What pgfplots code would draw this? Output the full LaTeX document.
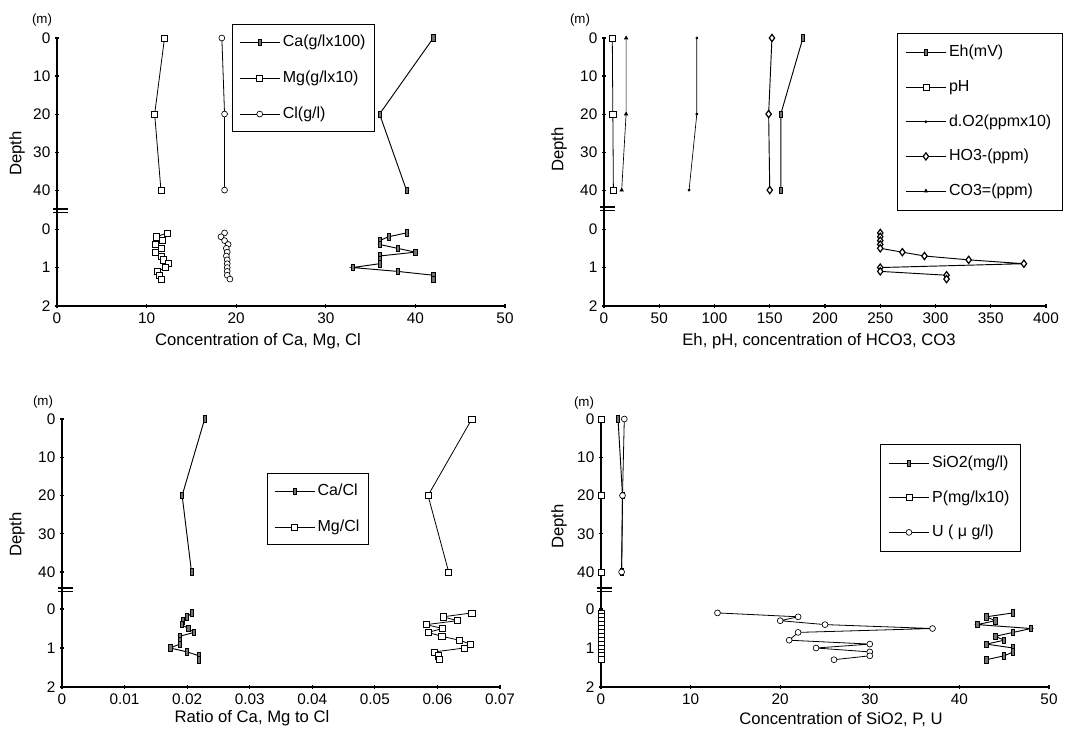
\documentclass[border=0pt]{standalone}
\usepackage{fontspec}
\setmainfont{Liberation Sans}
\usepackage{pgfplots}
\pgfplotsset{compat=1.18}

\pgfplotsset{
  base/.style={scale only axis, y dir=reverse, clip=false,
    tick style={black, line width=0.8pt}, major tick length=3pt, tick align=inside,
    tick label style={font=\fontsize{11.5}{13}\selectfont},
    /pgf/number format/assume math mode=true, scaled x ticks=false,
    legend cell align=left,
    legend image code/.code={\draw[mark repeat=2,mark phase=2,##1] plot coordinates {(0pt,0pt) (15pt,0pt) (30pt,0pt)};},
  },
  noarrow/.style={axis line style={-, line width=1.3pt},
    every outer x axis line/.append style={-}, every outer y axis line/.append style={-},
    every inner x axis line/.append style={-}, every inner y axis line/.append style={-}},
  upper/.style={base, axis x line=none, axis y line=left, ymin=0, ytick={0,10,20,30,40}, xtick=\empty, noarrow},
  lower/.style={base, axis x line=bottom, axis y line=left, ymax=2, ytick={0,1,2}, noarrow},
  leg/.style={legend style={at={(axis description cs:#1)}, anchor=north west, draw=black, line width=0.6pt,
    font=\fontsize{12}{14}\selectfont, row sep=10.5pt, inner sep=5pt,
    nodes={inner sep=2pt, text height=9.5pt, text depth=3pt}}},
  camark/.style={black, line width=0.7pt, mark=square*, mark size=2.4pt,
    mark options={xscale=0.5, fill=black!55, solid, line width=0.5pt}},
  sqmark/.style={black, line width=0.6pt, mark=square*, mark size=2.3pt,
    mark options={fill=white, line width=0.5pt}},
  cimark/.style={black, line width=0.6pt, mark=*, mark size=2.2pt,
    mark options={fill=white, line width=0.5pt}},
  dimark/.style={black, line width=0.7pt, mark=diamond*, mark size=2.7pt,
    mark options={fill=white, line width=0.9pt}},
  dotmark/.style={black, line width=0.5pt, mark=*, mark size=0.8pt},
  trimark/.style={black, line width=0.5pt, mark=triangle*, mark size=1.4pt},
}

\begin{document}
\begin{tikzpicture}
\tikzset{lab/.style={font=\fontsize{12.5}{14}\selectfont}, unit/.style={font=\fontsize{10}{12}\selectfont}}

% ---------- panel 1 : Ca, Mg, Cl ----------
\begin{axis}[upper, at={(42.75pt,-28.5pt)}, anchor=north west, width=336pt, height=129.75pt,
  xmin=0, xmax=50, ymax=45.5, leg={0.391,1.081}]
\addplot[camark] coordinates {(42,0) (36,20) (39,40)};
\addlegendentry{Ca(g/lx100)}
\addplot[sqmark] coordinates {(12.0,0) (10.9,20) (11.6,40)};
\addlegendentry{Mg(g/lx10)}
\addplot[cimark] coordinates {(18.4,0) (18.7,20) (18.7,40)};
\addlegendentry{Cl(g/l)}
\end{axis}
\begin{axis}[lower, at={(42.75pt,-229.5pt)}, anchor=south west, width=336pt, height=71.25pt,
  xmin=0, xmax=50, ymin=-0.47, xtick={0,10,20,30,40,50}]
\addplot[camark] coordinates {(39,0.1) (37,0.2) (36,0.3) (36,0.4) (38,0.5) (40,0.6) (36,0.7)
  (36,0.8) (36,0.9) (33,1.0) (38,1.1) (42,1.2) (42,1.3)};
\addplot[sqmark] coordinates {(12.3,0.1) (11.1,0.2) (11.8,0.3) (11.0,0.4) (11.6,0.5) (11.0,0.6)
  (11.6,0.7) (11.9,0.8) (12.4,0.9) (12.1,1.0) (11.2,1.1) (11.4,1.2) (11.6,1.3)};
\addplot[cimark] coordinates {(18.7,0.1) (18.3,0.2) (18.7,0.3) (19.1,0.4) (18.9,0.5) (19.0,0.6)
  (18.9,0.7) (19.0,0.8) (19.0,0.9) (19.0,1.0) (19.0,1.1) (19.0,1.2) (19.3,1.3)};
\end{axis}

% ---------- panel 2 : Eh, pH, O2, HCO3, CO3 ----------
\begin{axis}[upper, at={(453pt,-28.5pt)}, anchor=north west, width=331.5pt, height=129.75pt,
  xmin=0, xmax=400, ymax=45.5, leg={0.663,1.029}, legend style={row sep=9.5pt, inner sep=6pt}]
\addplot[camark] coordinates {(180,0) (160,20) (160,40)};
\addlegendentry{Eh(mV)}
\addplot[sqmark] coordinates {(7.5,0) (8,20) (8.5,40)};
\addlegendentry{pH}
\addplot[dotmark] coordinates {(84,0) (84,20) (77,40)};
\addlegendentry{d.O2(ppmx10)}
\addplot[dimark] coordinates {(152,0) (149,20) (150,40)};
\addlegendentry{HO3-(ppm)}
\addplot[trimark] coordinates {(20,0) (20,20) (16,40)};
\addlegendentry{CO3=(ppm)}
\end{axis}
\begin{axis}[lower, at={(453pt,-229.5pt)}, anchor=south west, width=331.5pt, height=71.25pt,
  xmin=0, xmax=400, ymin=-0.47, xtick={0,50,100,150,200,250,300,350,400}]
\addplot[dimark] coordinates {(250,0.1) (250,0.2) (250,0.3) (250,0.4) (250,0.5) (270,0.6) (290,0.7)
  (330,0.8) (380,0.9) (250,1.0) (250,1.1) (310,1.2) (310,1.3)};
\end{axis}

% ---------- panel 3 : Ca/Cl, Mg/Cl ----------
\begin{axis}[upper, at={(46.5pt,-314.25pt)}, anchor=north west, width=328.5pt, height=128.25pt,
  xmin=0, xmax=0.07, ymax=44.7, leg={0.468,0.684}]
\addplot[camark] coordinates {(0.0228,0) (0.0192,20) (0.0207,40)};
\addlegendentry{Ca/Cl}
\addplot[sqmark] coordinates {(0.0655,0) (0.0585,20) (0.0618,40)};
\addlegendentry{Mg/Cl}
\end{axis}
\begin{axis}[lower, at={(46.5pt,-515.25pt)}, anchor=south west, width=328.5pt, height=72.75pt,
  xmin=0, xmax=0.07, ymin=-0.487, xtick={0,0.01,0.02,0.03,0.04,0.05,0.06,0.07},
  xticklabels={0,0.01,0.02,0.03,0.04,0.05,0.06,0.07}]
\addplot[camark] coordinates {(0.0207,0.1) (0.0200,0.2) (0.0193,0.3) (0.0191,0.4) (0.0202,0.5)
  (0.0211,0.6) (0.0188,0.7) (0.0188,0.8) (0.0188,0.9) (0.0173,1.0) (0.0200,1.1) (0.0219,1.2) (0.0219,1.3)};
\addplot[sqmark] coordinates {(0.0655,0.1) (0.0609,0.2) (0.0632,0.3) (0.0582,0.4) (0.0608,0.5)
  (0.0585,0.6) (0.0607,0.7) (0.0635,0.8) (0.0653,0.9) (0.0643,1.0) (0.0595,1.1) (0.0602,1.2) (0.0603,1.3)};
\end{axis}

% ---------- panel 4 : SiO2, P, U ----------
\begin{axis}[upper, at={(450.75pt,-314.25pt)}, anchor=north west, width=336pt, height=128.25pt,
  xmin=0, xmax=50, ymax=44.7, leg={0.623,0.856}, legend style={row sep=9.5pt, inner sep=6pt}]
\addplot[camark] coordinates {(1.9,0) (2.4,20) (2.3,40)};
\addlegendentry{SiO2(mg/l)}
\addplot[sqmark] coordinates {(0.05,0) (0.05,20) (0.05,40)};
\addlegendentry{P(mg/lx10)}
\addplot[cimark] coordinates {(2.6,0) (2.4,20) (2.3,40)};
\addlegendentry{U ( μ g/l)}
\end{axis}
\begin{axis}[lower, at={(450.75pt,-515.25pt)}, anchor=south west, width=336pt, height=72.75pt,
  xmin=0, xmax=50, ymin=-0.487, xtick={0,10,20,30,40,50}]
\addplot[camark] coordinates {(46,0.1) (43,0.2) (44,0.3) (42,0.4) (48,0.5) (46,0.6) (44,0.7)
  (45,0.8) (43,0.9) (46,1.0) (46,1.1) (45,1.2) (43,1.3)};
\addplot[sqmark] coordinates {(0.05,0.1) (0.05,0.2) (0.05,0.3) (0.05,0.4) (0.05,0.5) (0.05,0.6) (0.05,0.7)
  (0.05,0.8) (0.05,0.9) (0.05,1.0) (0.05,1.1) (0.05,1.2) (0.05,1.3)};
\addplot[cimark] coordinates {(13,0.1) (22,0.2) (20,0.3) (25,0.4) (37,0.5) (22,0.6) (21,0.8)
  (30,0.9) (24,1.0) (30,1.1) (30,1.2) (26,1.3)};
\end{axis}

% axis breaks
\foreach \bx/\by in {53/209, 53/212.5, 600/207, 600/210.5, 58/588, 58/591.5, 597/588, 597/591.5}
  \draw[line width=0.8pt] ({\bx*0.75pt},{-\by*0.75pt}) -- ++(11.25pt,0);

% labels
\node[unit] at (31.5pt,-15pt) {(m)};
\node[unit] at (435pt,-15pt) {(m)};
\node[unit] at (32.25pt,-301.5pt) {(m)};
\node[unit] at (438pt,-302.25pt) {(m)};
\node[lab, rotate=90] at (12.75pt,-115pt) {Depth};
\node[lab, rotate=90] at (419.25pt,-112pt) {Depth};
\node[lab, rotate=90] at (12.75pt,-401pt) {Depth};
\node[lab, rotate=90] at (419.25pt,-395pt) {Depth};
\node[lab] at (193.5pt,-255.75pt) {Concentration of Ca, Mg, Cl};
\node[lab] at (614.25pt,-255.75pt) {Eh, pH, concentration of HCO3, CO3};
\node[lab] at (189pt,-538.5pt) {Ratio of Ca, Mg to Cl};
\node[lab] at (630.75pt,-540pt) {Concentration of SiO2, P, U};

\pgfresetboundingbox
\path (0,0) rectangle (801pt,-549.75pt);
\end{tikzpicture}
\end{document}
